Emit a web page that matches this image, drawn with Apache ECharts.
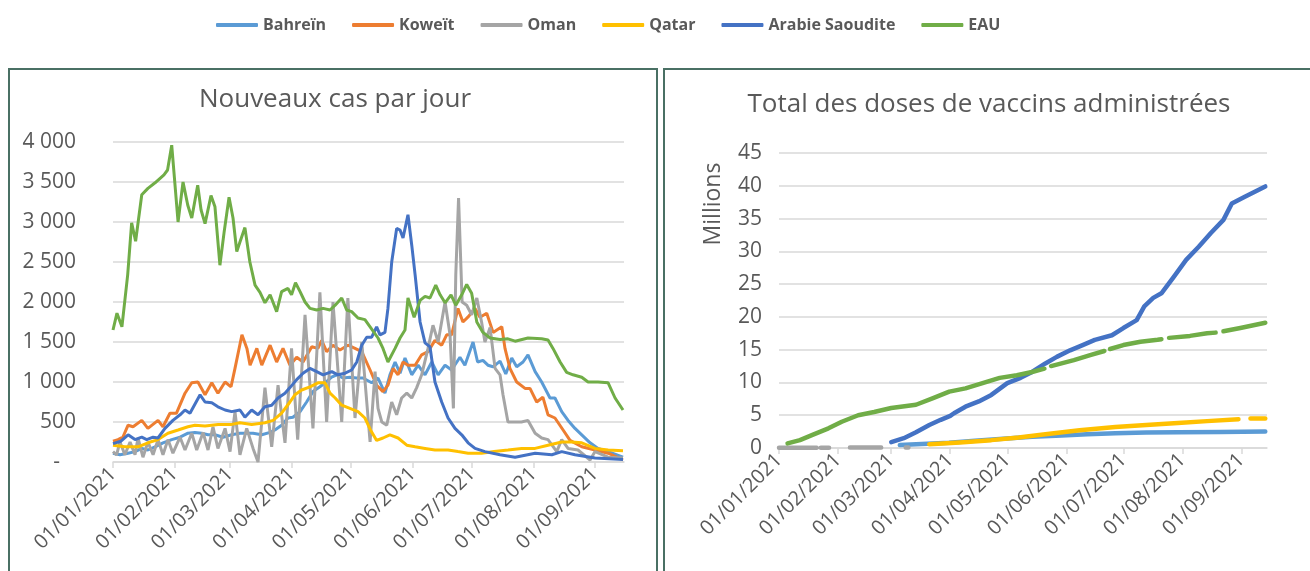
<!DOCTYPE html>
<html>
<head>
<meta charset="utf-8">
<script src="https://cdn.jsdelivr.net/npm/echarts@6/dist/echarts.min.js"></script>
<style>
html, body { margin: 0; padding: 0; background: #fff; }
#main { width: 1310px; height: 571px; }
</style>
</head>
<body>
<div id="main"></div>
<script>
// pays et couleurs
var countries = ['Bahreïn', 'Koweït', 'Oman', 'Qatar', 'Arabie Saoudite', 'EAU'];
var colors = ['#5B9BD5', '#ED7D31', '#A5A5A5', '#FFC000', '#4472C4', '#70AD47'];

// axe des dates : jours depuis le 01/01/2021
var monthStarts = [0, 31, 59, 90, 120, 151, 181, 212, 243];
var monthLabels = ['01/01/2021', '01/02/2021', '01/03/2021', '01/04/2021', '01/05/2021',
    '01/06/2021', '01/07/2021', '01/08/2021', '01/09/2021'];

// nouveaux cas par jour : [jour, cas]
var casBahrein = [[0,110],[3.5,90],[7.6,110],[11.1,130],[14.5,170],[17.6,150],[21.2,190],[25.2,240],[29.6,280],[33.8,310],[37.8,360],[41.3,370],[44.7,360],[47.9,340],[51.4,340],[55.4,310],[59.8,340],[64,360],[70.6,360],[75,340],[79.2,370],[81.6,400],[85,460],[88.2,550],[90.7,560],[94.3,630],[97.6,750],[100.8,880],[104.3,940],[106.9,990],[110.2,1060],[112.8,1090],[115.9,1050],[119.4,1060],[122.8,1050],[126,1050],[130.4,990],[133.6,1050],[137.1,860],[139.6,1090],[142.2,1250],[144.7,1110],[147.2,1300],[150.6,1090],[153.8,1210],[157.3,1090],[160.7,1250],[163.9,1090],[167.4,1210],[170.7,1150],[174.9,1310],[177.4,1210],[181.5,1500],[183.8,1250],[186.5,1270],[189,1210],[191.6,1190],[195.1,1260],[198,1100],[201,1300],[203.5,1190],[206.7,1250],[209.2,1340],[212.8,1130],[216.1,1000],[220.3,800],[222.8,800],[226.2,630],[229.4,520],[232.9,420],[236.3,340],[240.5,240],[244.5,170],[249.6,130],[257.1,60]];
var casKoweit = [[0,260],[2.5,280],[5,310],[7.6,460],[10.1,440],[14.5,520],[17.6,420],[22.7,520],[25.2,440],[28.7,610],[32,610],[36.3,860],[39.7,990],[42.8,1000],[46.4,840],[49.8,990],[52.9,860],[56.5,1000],[59.5,940],[61.5,1170],[65,1590],[67.5,1420],[69.1,1210],[72.5,1420],[75,1210],[79.2,1460],[82.5,1250],[85.7,1420],[89.2,1210],[92.6,1310],[95.8,1250],[100.2,1440],[103.3,1420],[105.2,1520],[107.7,1380],[110.9,1460],[114.4,1400],[118.4,1460],[122,1420],[125.4,1380],[129.6,1150],[132.9,960],[136.1,880],[138.6,960],[141.2,1170],[143.7,1090],[146.2,1250],[148.7,1210],[152.3,1210],[155.6,1340],[158.8,1380],[162.3,1520],[165.7,1460],[168.2,1590],[170.7,1590],[173.9,1920],[176.4,1750],[178.9,1810],[182.5,1920],[185,1810],[188.4,1860],[191.6,1620],[196,1690],[197.6,1420],[200.1,1170],[203.5,1000],[207.7,920],[210.2,920],[213.6,750],[216.7,810],[219.3,590],[222.8,550],[226.9,400],[230.4,270],[236.3,190],[243,150],[249.6,110],[257.1,25]];
var casOman = [[0,130],[1.8,90],[3.5,250],[6,90],[8.6,250],[11.1,90],[12.6,300],[15.1,60],[17.6,250],[20.2,90],[22.7,280],[25.2,90],[27.7,280],[30.2,110],[33.8,310],[36.3,150],[39.7,360],[42.2,150],[45.4,370],[47.9,150],[50.4,440],[52.9,170],[56.5,420],[59,130],[61.5,630],[64,90],[67.4,420],[70.6,170],[73.1,0],[76.6,930],[80,190],[83.2,960],[86.7,240],[90,1420],[93.1,280],[96.8,1840],[100.8,420],[104.3,2120],[107.7,500],[110.9,2000],[115.3,500],[118.4,2050],[122,550],[125.4,1500],[129.6,250],[132.1,1130],[133.6,670],[135.5,500],[138,460],[140.5,750],[143,590],[145.5,800],[148.1,860],[150.6,800],[153.1,930],[155.6,1090],[158.8,1420],[161.3,1710],[163.9,1500],[167.4,2000],[169.9,1590],[171.6,670],[172.8,2340],[174.2,3300],[176,2000],[178.3,1960],[180.8,1840],[183.4,2050],[185.8,1750],[187.5,1500],[190.1,1680],[192.6,1170],[195.1,1090],[196.6,840],[199.1,500],[205.9,500],[209.2,520],[212.8,360],[216.1,300],[219.3,280],[223.7,130],[226.2,280],[229.4,170],[234.4,150],[240.5,25],[243,130],[249.6,60],[257.1,50]];
var casQatar = [[0,210],[6,190],[12.6,190],[17.6,240],[22.7,280],[27.7,360],[32.8,400],[37.8,440],[41.3,460],[46.4,450],[53,470],[59.8,470],[64,490],[69.9,470],[76.6,490],[80.7,520],[85,610],[89.2,750],[91.7,840],[95.1,900],[99.3,940],[103.3,990],[106.9,990],[109.4,860],[112,800],[115.3,710],[119.4,670],[123.5,630],[127,550],[129.6,410],[132.9,270],[136.1,300],[139.6,340],[143.7,300],[148.1,210],[152.3,190],[157.3,170],[162.3,150],[168.9,150],[173.9,130],[179,110],[185.8,110],[192.1,130],[199.1,150],[206,170],[212.8,170],[219.3,210],[226.2,250],[231.2,250],[236.3,240],[243,170],[249.6,150],[257.1,140]];
var casSaoudite = [[0,230],[4,260],[7.6,340],[11.1,280],[14.5,310],[17,280],[20.2,310],[22.7,300],[26.2,420],[30.2,520],[33.8,590],[36.3,650],[38.8,610],[43.9,840],[46.4,750],[49.8,740],[52.9,690],[56.5,650],[59.8,630],[64,650],[66.5,560],[69.9,650],[73.1,590],[76.6,690],[80,710],[83.2,800],[86.7,860],[89.2,930],[92.6,1030],[95.8,1110],[99.3,1170],[102.7,1130],[105.9,1090],[110.3,1130],[113.4,1090],[117,1110],[120.3,1150],[122.9,1250],[125.4,1460],[127.9,1560],[130.4,1560],[132.9,1690],[134.6,1590],[137.1,1620],[138.6,1920],[140.5,2500],[143,2920],[144.7,2900],[146.2,2800],[148.7,3090],[150.6,2710],[152.3,2340],[154.8,1750],[157.3,1490],[159.8,1440],[162.3,1000],[165.7,750],[168.9,550],[172.4,420],[175.8,340],[179,240],[182.5,170],[187.5,130],[195.1,90],[202.7,60],[212.8,110],[221.2,90],[226.2,130],[232.9,90],[243,50],[257.1,30]];
var casEAU = [[0,1650],[2,1860],[4.5,1690],[7.4,2340],[9.4,2990],[11.4,2760],[14.5,3340],[17.6,3420],[21.2,3490],[25.7,3590],[27.5,3650],[29.6,3960],[32.8,3000],[35.3,3500],[37.7,3210],[39.7,3050],[42.7,3460],[44.4,3150],[46.4,2980],[49.4,3330],[51.4,3190],[53.9,2460],[56,2870],[58.5,3310],[60.5,3050],[62.4,2630],[64,2750],[66.5,2930],[69,2500],[71.6,2210],[74.1,2120],[76.6,1990],[79.2,2090],[82.5,1880],[85,2130],[88.2,2170],[90,2090],[92,2240],[94.3,2130],[96.8,2000],[99.3,1920],[102.7,1900],[105.9,1920],[109.4,1900],[112,1960],[115.3,2050],[117.8,1900],[120.3,1880],[123.5,1800],[127,1780],[129.6,1690],[133.6,1550],[136.1,1420],[138.6,1250],[142.2,1420],[144.7,1550],[147.2,1650],[148.7,2050],[151.8,1810],[154.8,2020],[157.3,2070],[159.8,2050],[162.7,2210],[164.9,2090],[167.4,1990],[170.4,2090],[172.8,1960],[175.8,2090],[178.3,2220],[180.8,2110],[183.4,1750],[186.5,1620],[190.1,1550],[195.1,1530],[199.1,1540],[202.7,1510],[209.2,1550],[216.1,1540],[219.3,1525],[221.8,1420],[225.4,1250],[228.7,1120],[231.9,1090],[236.3,1060],[239.5,1000],[244.5,1000],[249.6,990],[253.1,800],[257.1,650]];

// total des doses administrées : [jour, millions] (null = donnée manquante)
var dosesBahrein = [[63.5,0.45],[75,0.6],[89.4,0.8],[103,1.1],[117.8,1.4],[133,1.7],[148.6,1.9],[162,2.1],[176.8,2.25],[193,2.35],[209.8,2.4],[232,2.45],[255.6,2.5]];
var dosesKoweit = [];
var dosesOman = [[0,0.02],[5,0.02],[10,0.03],[15,0.03],[19.8,0.04],[21,null],[22,0.04],[26.3,0.05],[27,null],[37.3,0.06],[42,0.06],[47,0.07],[51,0.07],[53.7,0.08],[55,null],[66.6,0.09],[68,0.09]];
var dosesQatar = [[79,0.56],[95,0.85],[111.6,1.2],[126,1.6],[140,2.1],[158,2.7],[176.8,3.2],[193,3.5],[209.7,3.8],[225,4.1],[241.5,4.4],[244,null],[247.8,4.5],[255.6,4.5]];
var dosesSaoudite = [[59,0.9],[65.6,1.5],[72,2.4],[79,3.5],[85,4.3],[90,4.9],[92,5.3],[98,6.3],[105,7.1],[111.6,8.1],[120,9.9],[127,10.7],[133,11.6],[140,12.9],[146,13.9],[153,14.9],[159.6,15.7],[166,16.5],[175,17.2],[181,18.3],[188,19.5],[192,21.6],[196.7,22.9],[201,23.6],[207.5,26.1],[214,28.7],[220.6,30.7],[227,32.8],[233.6,34.8],[238,37.3],[244.6,38.3],[255.6,39.9]];
var dosesEAU = [[4.5,0.7],[11,1.2],[17.6,2.0],[26,3.0],[33,4.0],[41.6,5.0],[50,5.5],[59,6.1],[72,6.6],[81,7.6],[89.5,8.6],[98,9.1],[107,9.9],[116,10.7],[125,11.1],[133,11.6],[139.5,12.1],[141,null],[143,12.5],[155,13.4],[164,14.2],[171,14.8],[172,null],[174,15.1],[181,15.7],[190,16.2],[199,16.5],[201,16.6],[202.5,null],[205,16.8],[216,17.1],[225,17.5],[229.5,17.6],[231,null],[233.6,17.8],[242.5,18.3],[255.6,19.1]];

var casData = [casBahrein, casKoweit, casOman, casQatar, casSaoudite, casEAU];
var dosesData = [dosesBahrein, dosesKoweit, dosesOman, dosesQatar, dosesSaoudite, dosesEAU];

var fontName = '"Open Sans", "Noto Sans", sans-serif';
var labelColor = '#595959';
var gridColor = '#d9d9d9';

function formatCas(v) {
    if (v == 0) return '-\u2002 ';
    if (v < 1000) return '' + v;
    var r = v % 1000;
    return Math.floor(v / 1000) + ' ' + (r < 10 ? '00' : r < 100 ? '0' : '') + r;
}

function formatDate(v) {
    var i = monthStarts.indexOf(v);
    return i >= 0 ? monthLabels[i] : '';
}

function dateAxis(gridIndex, max) {
    return {
        type: 'value',
        gridIndex: gridIndex,
        min: 0,
        max: max,
        axisLine: { show: true, lineStyle: { color: gridColor, width: 1.5 } },
        axisTick: { show: true, length: 6, customValues: monthStarts, lineStyle: { color: gridColor, width: 1.5 } },
        axisLabel: {
            customValues: monthStarts,
            formatter: formatDate,
            rotate: 45,
            margin: 9,
            fontSize: 20,
            fontFamily: fontName,
            color: labelColor
        },
        splitLine: { show: false }
    };
}

var series = [];
countries.forEach(function (name, i) {
    series.push({
        name: name,
        type: 'line',
        xAxisIndex: 0,
        yAxisIndex: 0,
        data: casData[i],
        showSymbol: false,
        lineStyle: { width: 3, color: colors[i] },
        itemStyle: { color: colors[i] }
    });
    series.push({
        name: name,
        type: 'line',
        xAxisIndex: 1,
        yAxisIndex: 1,
        data: dosesData[i],
        showSymbol: false,
        lineStyle: { width: 4.5, color: colors[i], cap: 'round', join: 'round' },
        itemStyle: { color: colors[i] }
    });
});

var myChart = echarts.init(document.getElementById('main'));
var option = {
    animation: false,
    backgroundColor: '#fff',
    legend: {
        data: countries,
        left: 211,
        top: 12,
        icon: 'roundRect',
        itemWidth: 42,
        itemHeight: 4,
        itemGap: 26,
        textStyle: { fontSize: 16, fontWeight: 'bold', color: labelColor, fontFamily: fontName }
    },
    graphic: [
        { type: 'rect', shape: { x: 9, y: 69, width: 648, height: 530 }, style: { fill: 'none', stroke: '#4a7064', lineWidth: 2 } },
        { type: 'rect', shape: { x: 664, y: 69, width: 700, height: 530 }, style: { fill: 'none', stroke: '#4a7064', lineWidth: 2 } },
        { type: 'text', x: 335, y: 100, style: { text: 'Nouveaux cas par jour', fontSize: 26, fontFamily: fontName, fill: labelColor, textAlign: 'center', textVerticalAlign: 'middle' } },
        { type: 'text', x: 989, y: 105, style: { text: 'Total des doses de vaccins administrées', fontSize: 26, fontFamily: fontName, fill: labelColor, textAlign: 'center', textVerticalAlign: 'middle' } },
        { type: 'text', x: 713, y: 204, rotation: Math.PI / 2, style: { text: 'Millions', fontSize: 23, fontFamily: fontName, fill: labelColor, textAlign: 'center', textVerticalAlign: 'middle' } }
    ],
    grid: [
        { left: 113, top: 142, width: 511, height: 320 },
        { left: 779, top: 153, width: 488, height: 295 }
    ],
    xAxis: [dateAxis(0, 257.6), dateAxis(1, 256.5)],
    yAxis: [
        {
            type: 'value',
            gridIndex: 0,
            min: 0,
            max: 4000,
            interval: 500,
            axisLine: { show: false },
            axisTick: { show: false },
            axisLabel: { formatter: formatCas, margin: 37, fontSize: 21, fontFamily: fontName, color: labelColor },
            splitLine: { lineStyle: { color: gridColor, width: 1.5 } }
        },
        {
            type: 'value',
            gridIndex: 1,
            min: 0,
            max: 45,
            interval: 5,
            axisLine: { show: false },
            axisTick: { show: false },
            axisLabel: { margin: 17, fontSize: 21, fontFamily: fontName, color: labelColor },
            splitLine: { lineStyle: { color: gridColor, width: 1.5 } }
        }
    ],
    series: series
};
myChart.setOption(option);
</script>
</body>
</html>
